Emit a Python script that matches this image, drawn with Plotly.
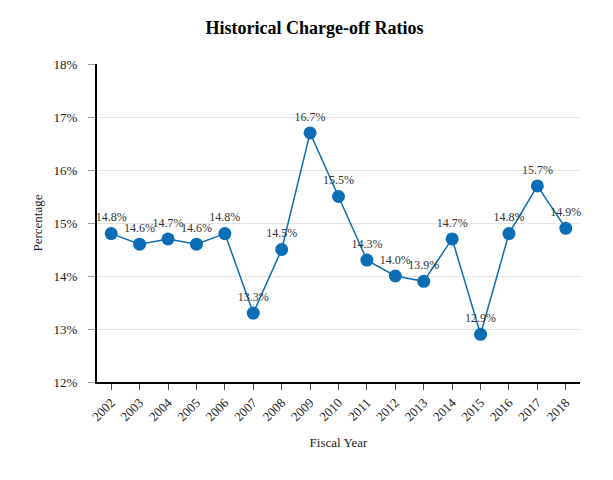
import plotly.graph_objects as go

years = [str(y) for y in range(2002, 2019)]
ratios = [14.8, 14.6, 14.7, 14.6, 14.8, 13.3, 14.5, 16.7, 15.5, 14.3, 14.0, 13.9, 14.7, 12.9, 14.8, 15.7, 14.9]
labels = [f"{v:.1f}%" for v in ratios]
y_ticks = [12, 13, 14, 15, 16, 17, 18]
y_tick_text = [f"{t}%" for t in y_ticks]

font = "Liberation Serif"

fig = go.Figure(go.Scatter(
    x=years, y=ratios, mode="lines+markers+text",
    text=labels, textposition="top center",
    textfont=dict(family=font, size=12, color="#333333"),
    line=dict(color="#0a6db5", width=1.5),
    marker=dict(color="#0a6db5", size=13),
    cliponaxis=False, hoverinfo="x+y",
))

fig.update_layout(
    width=613, height=480,
    paper_bgcolor="white", plot_bgcolor="white",
    margin=dict(l=89, r=41, t=56, b=106, autoexpand=False),
    title=dict(text="<b>Historical Charge-off Ratios</b>", x=0.5, xanchor="center",
               y=0.96, yanchor="middle",
               font=dict(family=font, size=18, color="black")),
    font=dict(family=font, size=13, color="#222222"),
    showlegend=False,
    xaxis=dict(
        type="category", range=[-0.5, 16.5],
        showline=True, linecolor="black", linewidth=2,
        ticks="outside", ticklen=6, tickcolor="#444444",
        tickangle=-45, showgrid=False,
        title=dict(text="Fiscal Year", font=dict(family=font, size=13), standoff=15),
        tickfont=dict(family=font, size=13, color="#222222"),
    ),
    yaxis=dict(
        range=[12, 18], tickvals=y_ticks, ticktext=y_tick_text,
        showline=True, linecolor="black", linewidth=2,
        ticks="outside", ticklen=7, tickcolor="#999999",
        ticklabelstandoff=8,
        showgrid=True, gridcolor="#e3e3e3", gridwidth=1,
        zeroline=False,
        title=dict(text="Percentage", font=dict(family=font, size=13), standoff=8),
        tickfont=dict(family=font, size=13, color="#222222"),
    ),
)

fig.write_html("out.html")
